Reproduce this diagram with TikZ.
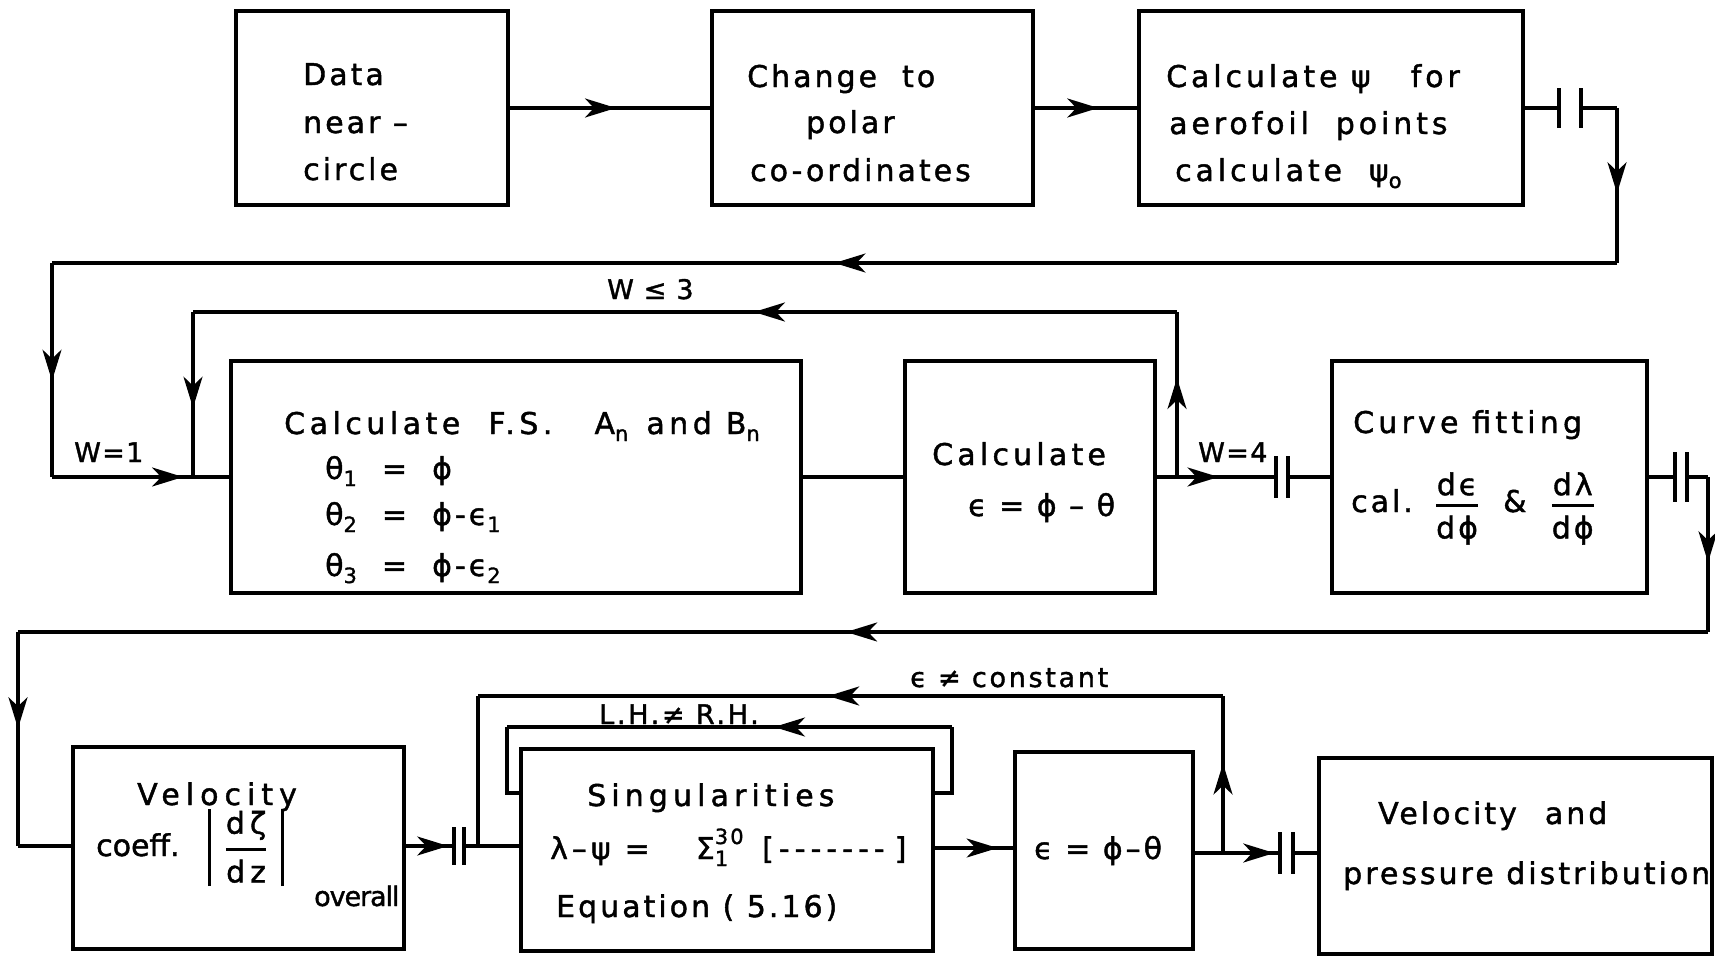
\documentclass[tikz,border=0pt]{standalone}
\usepackage{fontspec}
\usepackage{amsmath}
\setmainfont{DejaVu Sans}[LetterSpace=10,FakeBold=1.4]
\newfontfamily\labfont{DejaVu Sans}[LetterSpace=5,FakeBold=1.4]
\usetikzlibrary{arrows.meta,decorations.markings,fit}
\newcommand\lo[1]{\raisebox{-7pt}{\fontsize{21}{22}\selectfont #1}}
\newcommand\hi[1]{\raisebox{15pt}{\fontsize{21}{22}\selectfont #1}}
\newcommand\fr[2]{$\genfrac{}{}{2.8pt}{0}{\text{#1}}{\text{#2}}$}
\newcommand\vbar{\rule[-30pt]{3pt}{77pt}}
\tikzset{
  box/.style={draw, line width=3.2pt, inner sep=0pt},
  ln/.style={line width=3.2pt},
  tipat/.style={postaction={decorate}, decoration={markings,
      mark=at position #1 with {\arrow{Stealth[length=31pt,width=19pt,inset=9pt]}}}},
  txt/.style={anchor=base west, inner sep=0pt, font=\fontsize{30}{36}\selectfont},
  lab/.style={anchor=base west, inner sep=0pt, font=\labfont\fontsize{27}{30}\selectfont},
}
\begin{document}
\begin{tikzpicture}[x=1pt,y=-1pt]
\useasboundingbox (0,0) rectangle (1715,958);
% ---------- boxes ----------
\node[box, fit={(236,11) (508,205)}] (b1) {};
\node[box, fit={(712,11) (1033,205)}] (b2) {};
\node[box, fit={(1139,11) (1523,205)}] (b3) {};
\node[box, fit={(231,361) (801,593)}] (b4) {};
\node[box, fit={(905,361) (1155,593)}] (b5) {};
\node[box, fit={(1332,361) (1647,593)}] (b6) {};
\node[box, fit={(73,747) (404,949)}] (b7) {};
\node[box, fit={(521,749) (933,951)}] (b8) {};
\node[box, fit={(1015,752) (1193,949)}] (b9) {};
\node[box, fit={(1319,758) (1712,954)}] (b10) {};
% ---------- texts ----------
\node[txt] (t1a) at (303,85) {Data};
\node[txt] (t1b) at (303,133) {near –};
\node[txt] (t1c) at (303,180) {circle};
\node[txt] (t2a) at (747,87) {Change\ \ to};
\node[txt] (t2b) at (806,133) {polar};
\node[txt] (t2c) at (750,181) {co-ordinates};
\node[txt] (t3a) at (1166,87) {\addfontfeature{LetterSpace=13}Calculate ψ\hspace{40pt}for};
\node[txt] (t3b) at (1169,134) {\addfontfeature{LetterSpace=13}aerofoil\ \ points};
\node[txt] (t3c) at (1175,181) {\addfontfeature{LetterSpace=13}calculate\ \ ψ\lo{o}};
\node[txt] (t4a) at (284,434) {\addfontfeature{LetterSpace=15}Calculate\ \ F.S.\ \ \ A\lo{n}\ \hspace{4pt}and\ B\lo{n}};
\node[txt] (t4b) at (325,479) {θ\lo{1}\ \ =\ \ ϕ};
\node[txt] (t4c) at (325,525) {θ\lo{2}\ \ =\ \ ϕ-ϵ\lo{1}};
\node[txt] (t4d) at (325,576) {θ\lo{3}\ \ =\ \ ϕ-ϵ\lo{2}};
\node[txt] (t5a) at (932,465) {\addfontfeature{LetterSpace=14}Calculate};
\node[txt] (t5b) at (968,516) {ϵ = ϕ – θ};
\node[txt] (t6a) at (1353,433) {\addfontfeature{LetterSpace=14}Curve fitting};
\node[txt] (t6b) at (1351,512) {cal.\hspace{22pt}\fr{dϵ}{dϕ}\hspace{24pt}\&\hspace{24pt}\fr{dλ}{dϕ}};
\node[txt] (t7a) at (137,805) {\addfontfeature{LetterSpace=20}Velocity};
\node[txt] (t7b) at (96,856) {\addfontfeature{LetterSpace=0}coeff.\hspace{28pt}\vbar\hspace{14pt}\fr{d\,ζ}{d\,z}\hspace{14pt}\vbar};
\node[txt] (t7c) at (314,906) {\addfontfeature{LetterSpace=-4}\fontsize{27}{30}\selectfont overall};
\node[txt] (t8a) at (587,806) {\addfontfeature{LetterSpace=17}Singularities};
\node[txt] (t8b) at (550,859) {λ\hspace{4pt}–\hspace{4pt}ψ\hspace{14pt}=\hspace{46pt}Σ\makebox[0pt][l]{\hi{30}}\lo{1}\hspace{34pt}[\,-\,-\,-\,-\,-\,-\,-\,\,]};
\node[txt] (t8c) at (556,917) {Equation ( 5.16)};
\node[txt] (t9) at (1034,859) {ϵ = ϕ–θ};
\node[txt] (t10a) at (1378,824) {Velocity\hspace{28pt}and};
\node[txt] (t10b) at (1343,884) {pressure distribution};
% ---------- labels ----------
\node[lab] (l1) at (607,299) {W ≤ 3};
\node[lab] (l2) at (74,462) {W=1};
\node[lab] (l3) at (1198,462) {W=4};
\node[lab] (l4) at (910,687) {\addfontfeature{LetterSpace=10}ϵ ≠ constant};
\node[lab] (l5) at (599,724) {\addfontfeature{LetterSpace=10}L.H.≠ R.H.};
% ---------- coordinates ----------
\coordinate (c1a) at (1559,108); \coordinate (c1b) at (1581,108);
\coordinate (k1) at (1617,108); \coordinate (k2) at (1617,263);
\coordinate (k3) at (52,263); \coordinate (k4) at (52,477);
\coordinate (j1) at (193,477);
\coordinate (j2) at (1177,477); \coordinate (k5) at (1177,312); \coordinate (k6) at (193,312);
\coordinate (c2a) at (1276,477); \coordinate (c2b) at (1288,477);
\coordinate (c3a) at (1675,477); \coordinate (c3b) at (1687,477);
\coordinate (k7) at (1708,477); \coordinate (k8) at (1708,632);
\coordinate (k9) at (18,632); \coordinate (k10) at (18,846);
\coordinate (c4a) at (454,846); \coordinate (c4b) at (464,846);
\coordinate (j3) at (478,846);
\coordinate (k11) at (478,696); \coordinate (k12) at (1223,696);
\coordinate (j4) at (1223,853);
\coordinate (k13) at (507,793); \coordinate (k14) at (507,727);
\coordinate (k15) at (952,727); \coordinate (k16) at (952,793);
\coordinate (c5a) at (1280,853); \coordinate (c5b) at (1293,853);
% ---------- row 1 ----------
\draw[ln, tipat=0.53] (b1.east) -- (b2.west);
\draw[ln, tipat=0.62] (b2.east) -- (b3.west);
\draw[ln] (b3.east) -- (c1a);
\draw[ln] ([yshift=20pt]c1a) -- ([yshift=-20pt]c1a);
\draw[ln] ([yshift=20pt]c1b) -- ([yshift=-20pt]c1b);
\draw[ln] (c1b) -- (k1);
\draw[ln, tipat=0.55] (k1) -- (k2);
\draw[ln, tipat=0.5] (k2) -- (k3);
\draw[ln, tipat=0.55] (k3) -- (k4);
\draw[ln, tipat=0.93] (k4) -- (j1);
\draw[ln] (j1) -- (b4.west |- j1);
% ---------- row 2 ----------
\draw[ln] (b4.east) -- (b5.west);
\draw[ln] (b5.east) -- (j2);
\draw[ln, tipat=0.6] (j2) -- (k5);
\draw[ln, tipat=0.43] (k5) -- (k6);
\draw[ln, tipat=0.58] (k6) -- (j1);
\draw[ln, tipat=0.42] (j2) -- (c2a);
\draw[ln] ([yshift=21pt]c2a) -- ([yshift=-21pt]c2a);
\draw[ln] ([yshift=21pt]c2b) -- ([yshift=-21pt]c2b);
\draw[ln] (c2b) -- (b6.west |- c2b);
\draw[ln] (b6.east |- c3a) -- (c3a);
\draw[ln] ([yshift=25pt]c3a) -- ([yshift=-25pt]c3a);
\draw[ln] ([yshift=25pt]c3b) -- ([yshift=-25pt]c3b);
\draw[ln] (c3b) -- (k7);
\draw[ln, tipat=0.55] (k7) -- (k8);
\draw[ln, tipat=0.51] (k8) -- (k9);
\draw[ln, tipat=0.45] (k9) -- (k10);
\draw[ln] (k10) -- (b7.west |- k10);
% ---------- row 3 ----------
\draw[ln, tipat=0.88] (b7.east |- c4a) -- (c4a);
\draw[ln] ([yshift=19pt]c4a) -- ([yshift=-19pt]c4a);
\draw[ln] ([yshift=19pt]c4b) -- ([yshift=-19pt]c4b);
\draw[ln] (c4b) -- (j3) -- (b8.west |- j3);
\draw[ln] (j3) -- (k11);
\draw[ln, tipat=0.53] (k12) -- (k11);
\draw[ln, tipat=0.57] (j4) -- (k12);
\draw[ln] (b8.east |- k16) -- (k16) -- (k15);
\draw[ln, tipat=0.4] (k15) -- (k14);
\draw[ln] (k14) -- (k13) -- (b8.west |- k13);
\draw[ln, tipat=0.8] (b8.east |- 0,848) -- (b9.west |- 0,848);
\draw[ln] (b9.east |- j4) -- (j4);
\draw[ln, tipat=0.9] (j4) -- (c5a);
\draw[ln] ([yshift=21pt]c5a) -- ([yshift=-21pt]c5a);
\draw[ln] ([yshift=21pt]c5b) -- ([yshift=-21pt]c5b);
\draw[ln] (c5b) -- (b10.west |- c5b);
\end{tikzpicture}
\end{document}
